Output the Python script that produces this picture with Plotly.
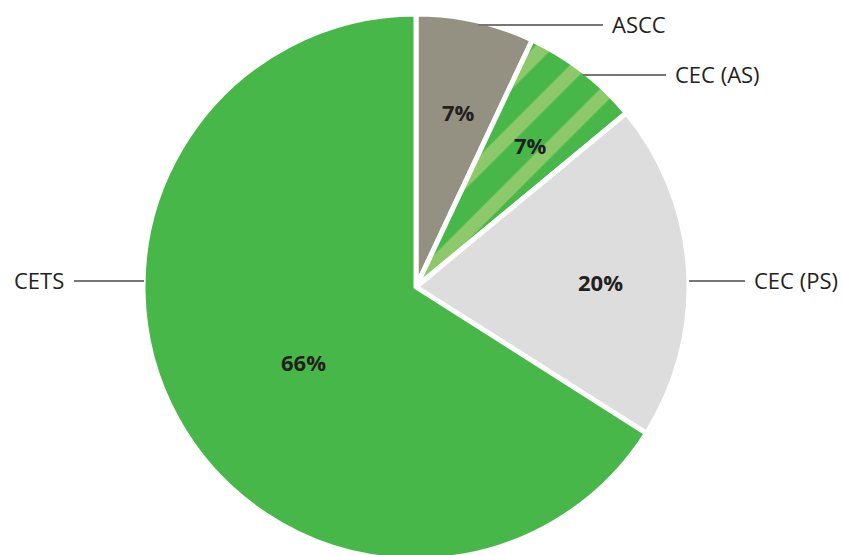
import math
import plotly.graph_objects as go

# Share of each category (percent), drawn clockwise from 12 o'clock
categories = ["ASCC", "CEC (AS)", "CEC (PS)", "CETS"]
shares = [7, 7, 20, 66]
colors = ["#959182", "#48b749", "#dcdddc", "#48b749"]
patterns = ["", "/", "", ""]

W, H = 843, 574
CX, CY, R = 416, 287, 273

fig = go.Figure(
    go.Pie(
        labels=categories,
        values=shares,
        sort=False,
        direction="clockwise",
        rotation=0,
        textinfo="none",
        hoverinfo="skip",
        domain=dict(x=[(CX - R) / W, (CX + R) / W], y=[0, 1]),
        marker=dict(
            colors=colors,
            line=dict(color="white", width=5),
            pattern=dict(shape=patterns, fgcolor="#8dc96b", bgcolor="#48b749",
                         size=38, solidity=0.36),
        ),
    )
)


def px(x, y):
    return x / W, 1 - y / H


# percentage labels placed along each slice's mid-angle
radial_frac = [0.66, 0.67, 0.68, 0.5]
angle_nudge = [1.0, 1.4, 2.4, -5.4]
total = sum(shares)
start = 0.0
annotations = []
for i, v in enumerate(shares):
    mid = (start + v / 2) / total * 360 + angle_nudge[i]
    start += v
    r = 271 * radial_frac[i]
    x = CX + r * math.sin(math.radians(mid))
    y = CY - r * math.cos(math.radians(mid)) - 1.5
    ax, ay = px(x, y)
    annotations.append(
        dict(x=ax, y=ay, xref="paper", yref="paper", text=f"<b>{v}%</b>",
             xanchor="center", yanchor="middle", showarrow=False,
             font=dict(family="Open Sans", size=22, color="#231f20"))
    )

# category labels with horizontal leader lines
leaders = [
    ((478, 25), (603, 25), "left"),
    ((583, 75), (666, 75), "left"),
    ((689, 281), (745, 281), "left"),
    ((144, 281), (74, 281), "right"),
]
shapes = []
for name, ((x0, y0), (x1, y1), side) in zip(categories, leaders):
    a0, b0 = px(x0, y0)
    a1, b1 = px(x1, y1)
    shapes.append(dict(type="line", xref="paper", yref="paper", x0=a0, y0=b0, x1=a1, y1=b1,
                       line=dict(color="#77777a", width=2)))
    tx = x1 + 7 if side == "left" else x1 - 8
    ta, tb = px(tx, y1 - 1)
    annotations.append(
        dict(x=ta, y=tb, xref="paper", yref="paper", text=name, showarrow=False,
             xanchor=side, yanchor="middle",
             font=dict(family="Open Sans", size=22, color="#231f20"))
    )

fig.update_layout(
    width=W,
    height=H,
    margin=dict(l=0, r=0, t=0, b=0),
    paper_bgcolor="white",
    plot_bgcolor="white",
    showlegend=False,
    annotations=annotations,
    shapes=shapes,
)

fig.write_html(
    "out.html",
    config=dict(displayModeBar=False),
    post_script="document.documentElement.style.overflow='hidden';document.body.style.overflow='hidden';",
)
